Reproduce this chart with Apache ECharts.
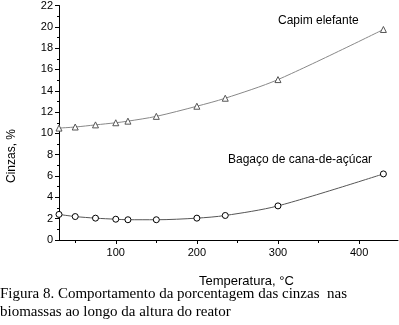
<!DOCTYPE html>
<html>
<head>
    <meta charset="utf-8"/>
    <title>Cinzas x Temperatura</title>
    <script src="https://cdn.jsdelivr.net/npm/echarts@6/dist/echarts.min.js"></script>
    <style>
        html, body { margin: 0; padding: 0; background: #fff; }
        #chart { width: 399px; height: 325px; }
    </style>
</head>
<body>
<div id="chart"></div>
<script>
    // dados
    var temps = [30, 50, 75, 100, 115, 150, 200, 235, 300, 430];
    var capim = [10.5, 10.6, 10.8, 11.0, 11.15, 11.6, 12.55, 13.3, 15.05, 19.75];
    var bagaco = [2.4, 2.2, 2.05, 1.95, 1.9, 1.9, 2.05, 2.3, 3.2, 6.2];
    var xMajor = [100, 200, 300, 400];
    var xMinor = [50, 150, 250, 350];

    function pares(ys) {
        return temps.map(function (t, i) { return [t, ys[i]]; });
    }

    var font = 'Liberation Sans, Arial, sans-serif';
    var myChart = echarts.init(document.getElementById('chart'));
    var option = {
        animation: false,
        grid: {left: 59, right: 1, top: 5, bottom: 85},
        xAxis: [{
            type: 'value',
            min: 30,
            max: 448,
            splitLine: {show: false},
            axisLine: {lineStyle: {color: '#000', width: 1}},
            axisTick: {show: true, length: 4, customValues: xMajor, lineStyle: {color: '#000'}},
            axisLabel: {customValues: xMajor, color: '#000', fontFamily: font, fontSize: 11, margin: 7}
        }, {
            // so para os tracinhos menores
            type: 'value',
            position: 'bottom',
            min: 30,
            max: 448,
            splitLine: {show: false},
            axisLine: {show: false},
            axisTick: {show: true, length: 3, customValues: xMinor, lineStyle: {color: '#000'}},
            axisLabel: {show: false}
        }],
        yAxis: {
            type: 'value',
            min: 0,
            max: 22,
            interval: 2,
            splitLine: {show: false},
            axisLine: {show: true, lineStyle: {color: '#000', width: 1}},
            axisTick: {show: true, length: 4, lineStyle: {color: '#000'}},
            minorTick: {show: true, splitNumber: 2, length: 2, lineStyle: {color: '#000'}},
            axisLabel: {color: '#000', fontFamily: font, fontSize: 11, margin: 6}
        },
        series: [{
            name: 'Capim elefante',
            type: 'line',
            smooth: 0.3,
            symbol: 'triangle',
            symbolSize: 6,
            data: pares(capim),
            lineStyle: {color: '#888', width: 1},
            itemStyle: {color: '#fff', borderColor: '#555', borderWidth: 1}
        }, {
            name: 'Bagaço de cana-de-açúcar',
            type: 'line',
            smooth: 0.3,
            symbol: 'circle',
            symbolSize: 6,
            data: pares(bagaco),
            lineStyle: {color: '#555', width: 1},
            itemStyle: {color: '#fff', borderColor: '#000', borderWidth: 1}
        }],
        graphic: [
            {type: 'text', left: 278, top: 15, style: {text: 'Capim elefante', font: '12px ' + font, fill: '#000'}},
            {type: 'text', left: 228, top: 154, style: {text: 'Bagaço de cana-de-açúcar', font: '12px ' + font, fill: '#000'}},
            {type: 'text', left: 199, top: 275, style: {text: 'Temperatura, °C', font: '13px ' + font, fill: '#000'}},
            {type: 'text', left: 6, top: 129, rotation: Math.PI / 2,
                style: {text: 'Cinzas, %', font: '12px ' + font, fill: '#000', align: 'center', verticalAlign: 'middle'}},
            {type: 'text', left: 0, top: 285,
                style: {text: 'Figura 8. Comportamento da porcentagem das cinzas  nas\nbiomassas ao longo da altura do reator',
                    font: '15px Liberation Serif, Times New Roman, serif', fill: '#000', lineHeight: 18}}
        ]
    };
    myChart.setOption(option);
</script>
</body>
</html>
